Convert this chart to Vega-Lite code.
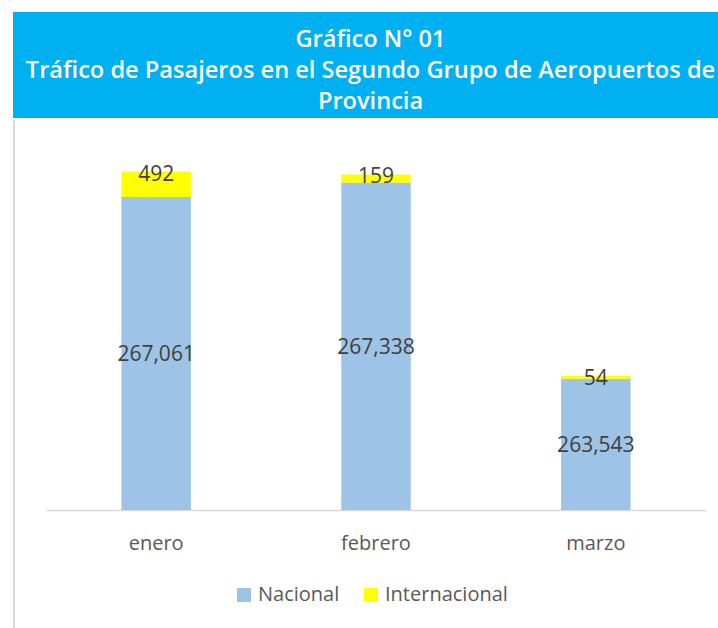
{
  "$schema": "https://vega.github.io/schema/vega-lite/v6.json",
  "padding": {"left": 11, "top": 12, "right": 0, "bottom": 0},
  "background": "white",
  "spacing": 2,
  "config": {"view": {"stroke": null}, "font": "Open Sans"},
  "resolve": {"scale": {"color": "independent"}, "legend": {"color": "independent"}},
  "vconcat": [
    {
      "width": 707,
      "height": 106,
      "view": {"fill": "#00B0F0", "stroke": null},
      "data": {"values": [{"titulo": "Gráfico N° 01\nTráfico de Pasajeros en el Segundo Grupo de Aeropuertos de\nProvincia"}]},
      "mark": {"type": "text", "lineBreak": "\n", "font": "Open Sans", "fontWeight": 600, "fontSize": 23.6, "color": "white", "lineHeight": 31, "align": "center", "baseline": "middle", "dx": 4, "dy": -25},
      "encoding": {"text": {"field": "titulo", "type": "nominal"}}
    },
    {
      "spacing": 29,
      "resolve": {"scale": {"color": "independent"}, "legend": {"color": "independent"}},
      "hconcat": [
        {
          "width": 2,
          "height": 508,
          "view": {"fill": "#D9D9D9", "stroke": null},
          "data": {"values": [{}]},
          "mark": {"type": "point", "opacity": 0},
          "encoding": {}
        },
        {
          "width": 660,
          "height": 390,
          "data": {"values": [
            {"mes": "enero", "serie": "Nacional", "valor": 267061},
            {"mes": "enero", "serie": "Internacional", "valor": 492},
            {"mes": "febrero", "serie": "Nacional", "valor": 267338},
            {"mes": "febrero", "serie": "Internacional", "valor": 159},
            {"mes": "marzo", "serie": "Nacional", "valor": 263543},
            {"mes": "marzo", "serie": "Internacional", "valor": 54}
          ]},
          "encoding": {
            "x": {
              "field": "mes", "type": "nominal", "sort": ["enero", "febrero", "marzo"],
              "scale": {"paddingInner": 0.684, "paddingOuter": 0.343},
              "axis": {"title": null, "labelAngle": 0, "ticks": false, "domainColor": "#D9D9D9", "domainWidth": 1.5, "labelFontSize": 20, "labelColor": "#595959", "labelFont": "Open Sans", "labelPadding": 23}
            }
          },
          "layer": [
            {
              "mark": {"type": "bar", "clip": true},
              "encoding": {
                "y": {"field": "valor", "type": "quantitative", "stack": "zero", "scale": {"domain": [261000, 268550], "zero": false}, "axis": null},
                "color": {
                  "field": "serie", "type": "nominal",
                  "scale": {"domain": ["Nacional", "Internacional"], "range": ["#9DC3E6", "#FFFF00"]},
                  "legend": {"title": null, "orient": "none", "legendX": 188, "legendY": 465, "direction": "horizontal", "symbolType": "square", "symbolSize": 196, "symbolStrokeWidth": 0, "labelFontSize": 20, "labelColor": "#595959", "labelFont": "Open Sans", "columnPadding": 21, "labelOffset": 4}
                },
                "order": {"field": "serie", "sort": "descending"}
              }
            },
            {
              "transform": [{"filter": "datum.serie === 'Nacional'"}],
              "mark": {"type": "text", "fontSize": 21, "color": "#404040", "font": "Open Sans", "dy": 2},
              "encoding": {
                "y": {"field": "valor", "type": "quantitative", "scale": {"domain": [261000, 276100], "zero": false}, "axis": null},
                "text": {"field": "valor", "type": "quantitative", "format": ","}
              }
            },
            {
              "mark": {"type": "text", "fontSize": 21, "color": "#404040", "font": "Open Sans", "dy": 3},
              "encoding": {
                "y": {"field": "valor", "type": "quantitative", "stack": "zero", "scale": {"domain": [261000, 268550], "zero": false}, "axis": null},
                "detail": {"field": "serie"},
                "order": {"field": "serie", "sort": "descending"},
                "text": {"field": "valor", "type": "quantitative", "format": ","},
                "opacity": {"condition": {"test": "datum.serie === 'Internacional'", "value": 1}, "value": 0}
              }
            }
          ],
          "resolve": {"scale": {"y": "independent"}}
        }
      ]
    }
  ]
}
